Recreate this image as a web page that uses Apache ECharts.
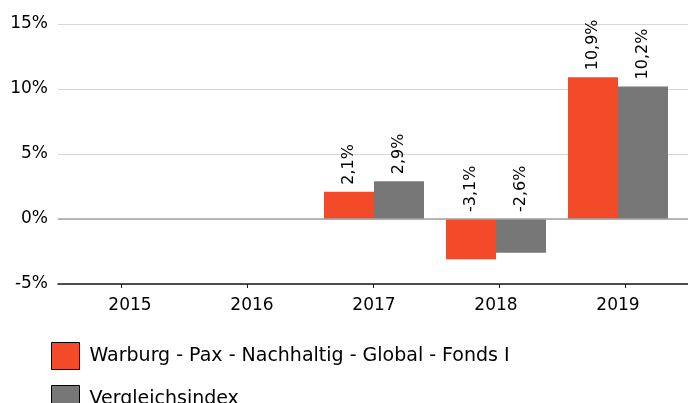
<!DOCTYPE html>
<html>
<head>
<meta charset="utf-8">
<script src="https://cdn.jsdelivr.net/npm/echarts@6/dist/echarts.min.js"></script>
<style>
html,body{margin:0;padding:0;background:#fff;}
#chart{width:688px;height:403px;}
</style>
</head>
<body>
<div id="chart"></div>
<script>
var years = ['2015', '2016', '2017', '2018', '2019'];
var fundName = 'Warburg - Pax - Nachhaltig - Global - Fonds I';
var indexName = 'Vergleichsindex';
var fundValues = [null, null, 2.1, -3.1, 10.9];
var indexValues = [null, null, 2.9, -2.6, 10.2];
var yTicks = [-5, 0, 5, 10, 15];

var FONT = 'DejaVu Sans';
function pct(v) { return String(v).replace('.', ',') + '%'; }
function valLabel(p) { return p.value == null ? '' : p.value.toFixed(1).replace('.', ',') + '%'; }

var labelCfg = {
  show: true, position: 'top', rotate: 90, align: 'left', verticalAlign: 'middle',
  distance: 7, fontFamily: FONT, fontSize: 16, color: '#000', formatter: valLabel
};

var chart = echarts.init(document.getElementById('chart'), null, {renderer: 'canvas'});
chart.setOption({
  animation: false,
  backgroundColor: '#fff',
  grid: [
    {left: 58, right: 0, top: 24, bottom: 119},
    {left: 69, right: 9, top: 24, bottom: 119}
  ],
  xAxis: [
    {gridIndex: 0, type: 'category', data: years,
     axisLine: {show: true, onZero: false, lineStyle: {color: '#1a1a1a', width: 1.5}},
     axisTick: {show: true, alignWithLabel: true, length: 4, lineStyle: {color: '#1a1a1a'}},
     axisLabel: {show: false}, splitLine: {show: false}},
    {gridIndex: 1, type: 'category', data: years,
     axisLine: {show: false}, axisTick: {show: false},
     axisLabel: {show: true, margin: 13, fontFamily: FONT, fontSize: 17, color: '#000'}}
  ],
  yAxis: [
    {gridIndex: 0, type: 'value', min: yTicks[0], max: yTicks[yTicks.length - 1], interval: 5,
     axisLine: {show: false}, axisTick: {show: false},
     axisLabel: {show: true, margin: 10, fontFamily: FONT, fontSize: 17, color: '#000', formatter: pct},
     splitLine: {show: true, lineStyle: {color: '#d6d6d6', width: 1}}},
    {gridIndex: 1, type: 'value', min: yTicks[0], max: yTicks[yTicks.length - 1], interval: 5,
     show: false, splitLine: {show: false}}
  ],
  legend: {
    data: [fundName, indexName],
    orient: 'vertical', left: 51, top: 342, height: 120, width: 600, padding: 0,
    icon: 'rect', itemWidth: 28, itemHeight: 27, itemGap: 15,
    textStyle: {fontFamily: FONT, fontSize: 19, color: '#000', padding: [0, 0, 0, 5]},
    itemStyle: {borderColor: '#000', borderWidth: 1}
  },
  series: [
    {name: 'zero', type: 'line', xAxisIndex: 0, yAxisIndex: 0, data: [],
     silent: true,
     markLine: {silent: true, symbol: 'none', label: {show: false},
       lineStyle: {color: '#a3a3a3', width: 1.5, type: 'solid'}, data: [{yAxis: 0}]}},
    {name: fundName, type: 'bar', xAxisIndex: 1, yAxisIndex: 1, data: fundValues,
     barWidth: 50, barGap: '0%', itemStyle: {color: '#F34A29'}, label: labelCfg, z: 3},
    {name: indexName, type: 'bar', xAxisIndex: 1, yAxisIndex: 1, data: indexValues,
     barWidth: 50, barGap: '0%', itemStyle: {color: '#777777'}, label: labelCfg, z: 3}
  ]
});
</script>
</body>
</html>
